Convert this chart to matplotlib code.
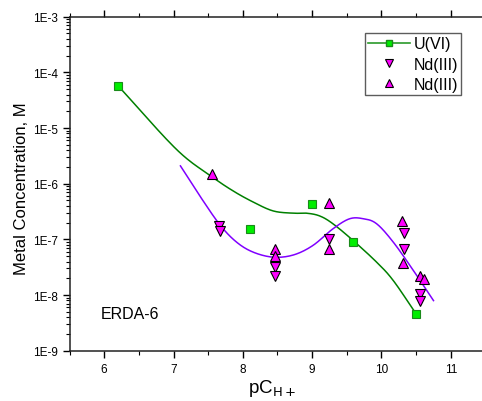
import numpy as np
import matplotlib
matplotlib.use("Agg")
import matplotlib.pyplot as plt
from matplotlib.ticker import LogLocator, FixedLocator, NullFormatter

plt.rcParams["font.family"] = ["Liberation Sans", "DejaVu Sans"]

# --- data ---
u_ph = [6.2, 8.1, 9.0, 9.59, 10.5]
u_conc = [5.8e-5, 1.55e-7, 4.4e-7, 9.1e-8, 4.5e-9]

nd_down_ph = [7.66, 7.67, 8.46, 8.46, 9.25, 10.33, 10.32, 10.55, 10.56]
nd_down_conc = [1.75e-7, 1.42e-7, 3.2e-8, 2.2e-8, 1.0e-7, 1.3e-7, 6.8e-8, 1.05e-8, 7.9e-9]

nd_up_ph = [7.55, 8.46, 8.46, 9.25, 9.25, 10.30, 10.31, 10.56, 10.62]
nd_up_conc = [1.5e-6, 6.8e-8, 5.1e-8, 4.5e-7, 6.8e-8, 2.1e-7, 3.8e-8, 2.2e-8, 1.95e-8]

# smooth curves as drawn in the reference (pH, log10 conc)
u_curve_ph = [6.2, 7.04, 7.55, 7.86, 8.15, 8.44, 8.73, 8.92, 9.11, 9.30, 9.59, 9.93, 10.17, 10.5]
u_curve_log = [-4.24, -5.38, -5.87, -6.13, -6.33, -6.49, -6.53, -6.53, -6.58, -6.72,
               -7.02, -7.41, -7.74, -8.34]
nd_curve_ph = [7.10, 7.38, 7.67, 7.91, 8.15, 8.44, 8.73, 9.01, 9.30, 9.54, 9.74, 9.93,
               10.17, 10.46, 10.75]
nd_curve_log = [-5.68, -6.22, -6.74, -7.05, -7.23, -7.32, -7.28, -7.11, -6.81, -6.63,
                -6.63, -6.72, -7.05, -7.56, -8.10]


def smooth(xs, ys, n=20):
    """Catmull-Rom through the given knots"""
    x = np.asarray(xs, float)
    y = np.asarray(ys, float)
    px = np.concatenate([[2 * x[0] - x[1]], x, [2 * x[-1] - x[-2]]])
    py = np.concatenate([[2 * y[0] - y[1]], y, [2 * y[-1] - y[-2]]])
    outx, outy = [], []
    t = np.linspace(0, 1, n, endpoint=False)
    for i in range(1, len(px) - 2):
        for arr, out in ((px, outx), (py, outy)):
            p0, p1, p2, p3 = arr[i - 1], arr[i], arr[i + 1], arr[i + 2]
            out.extend(0.5 * (2 * p1 + (-p0 + p2) * t + (2 * p0 - 5 * p1 + 4 * p2 - p3) * t ** 2
                              + (-p0 + 3 * p1 - 3 * p2 + p3) * t ** 3))
    outx.append(x[-1])
    outy.append(y[-1])
    return np.array(outx), 10 ** np.array(outy)


fig = plt.figure(figsize=(4.82, 4.02), dpi=100)
ax = fig.add_axes([69.5 / 482, 50.3 / 402, 416 / 482, 334 / 402])

gx, gy = smooth(u_curve_ph, u_curve_log)
px_, py_ = smooth(nd_curve_ph, nd_curve_log)
ax.plot(gx, gy, color="#008000", lw=1.1, zorder=2)
ax.plot(px_, py_, color="#8000ff", lw=1.1, zorder=2)

ax.plot(u_ph, u_conc, ls="none", marker="s", ms=5.2, mfc="#00ee00", mec="#1a8a1a", mew=0.8, zorder=4)
ax.plot(nd_down_ph, nd_down_conc, ls="none", marker="v", ms=6.5, mfc="#ff00ff", mec="black", mew=0.8, zorder=5)
ax.plot(nd_up_ph, nd_up_conc, ls="none", marker="^", ms=6.5, mfc="#ff00ff", mec="black", mew=0.8, zorder=5)

# legend handles
h1, = ax.plot([], [], color="#2a9a2a", lw=1.2, marker="s", ms=5, mfc="#00ee00", mec="#1a8a1a")
h2, = ax.plot([], [], ls="none", marker="v", ms=6, mfc="#ff00ff", mec="black", mew=0.8)
h3, = ax.plot([], [], ls="none", marker="^", ms=6, mfc="#ff00ff", mec="black", mew=0.8)
leg = ax.legend([h1, h2, h3], ["U(VI)", "Nd(III)", "Nd(III)"], loc="upper left",
                bbox_to_anchor=(295.5 / 416, 1 - 16.5 / 334), fontsize=11.5,
                frameon=True, fancybox=False, edgecolor="#333333",
                handlelength=2.6, handletextpad=0.25, borderpad=0.2,
                labelspacing=0.32, borderaxespad=0)
leg.get_frame().set_linewidth(1.0)

ax.set_yscale("log")
ax.set_ylim(1e-9, 1e-3)
ax.set_xlim(5.5, 11.5)
ax.yaxis.set_minor_locator(LogLocator(base=10, subs=np.arange(2, 10), numticks=10))
ax.yaxis.set_minor_formatter(NullFormatter())
ax.set_yticks([1e-9, 1e-8, 1e-7, 1e-6, 1e-5, 1e-4, 1e-3])
ax.set_yticklabels(["1E-9", "1E-8", "1E-7", "1E-6", "1E-5", "1E-4", "1E-3"])
ax.set_xticks([6, 7, 8, 9, 10, 11])
ax.xaxis.set_minor_locator(FixedLocator([5.5, 6.5, 7.5, 8.5, 9.5, 10.5, 11.5]))

ax.tick_params(which="major", direction="out", length=5, width=1, labelsize=8.5, pad=3)
ax.tick_params(which="minor", direction="out", length=3, width=0.8)
ax.tick_params(axis="x", which="both", top=True)
ax.tick_params(axis="x", which="major", pad=4)
for s in ax.spines.values():
    s.set_linewidth(1.1)
    s.set_color("#222222")
ax.spines["right"].set_visible(False)

ax.text(0.074, 0.11, "ERDA-6", transform=ax.transAxes, fontsize=11.5, va="center", ha="left")
fig.text(22 / 482, 1 - 189 / 402, "Metal Concentration, M", rotation=90, fontsize=12,
         ha="center", va="center")
fig.text(272 / 482, 3 / 402, r"pC$_{\mathrm{H+}}$", fontsize=13.5, ha="center", va="bottom")

fig.savefig("out.png", dpi=100)
